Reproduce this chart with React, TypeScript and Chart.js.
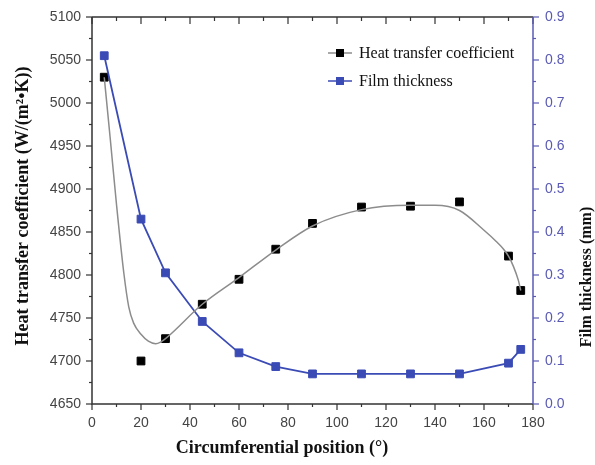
import React, { useEffect, useRef } from "react";
import { Chart, registerables } from "chart.js";

Chart.register(...registerables);

// Circumferential positions (degrees)
const positions = [5, 20, 30, 45, 60, 75, 90, 110, 130, 150, 170, 175];
// Heat transfer coefficient W/(m²·K)
const heatTransfer = [5030, 4700, 4726, 4766, 4795, 4830, 4860, 4879, 4880, 4885, 4822, 4782];
// Film thickness (mm)
const filmThickness = [0.81, 0.43, 0.305, 0.192, 0.119, 0.087, 0.07, 0.07, 0.07, 0.07, 0.095, 0.127];
// Fitted curve for heat transfer coefficient
const fitPositions = [5, 7.5, 10, 13, 15, 17, 20, 23, 26, 28, 30, 45, 60, 75, 90, 110, 130, 140, 150, 160, 165, 168, 170, 172, 174, 175];
const fitValues = [5030, 4957, 4882, 4802, 4763, 4744, 4731, 4723, 4720, 4722, 4726, 4766, 4797, 4829, 4857, 4876, 4881, 4881, 4875, 4852, 4839, 4830, 4822, 4810, 4794, 4782];

const legendLabels = ["Heat transfer coefficient", "Film thickness"];
const xTitle = "Circumferential position (°)";
const yTitle = "Heat transfer coefficient (W/(m²•K))";
const y2Title = "Film thickness (mm)";

const BLUE = "#3b4bb5";
const AXIS_BLUE = "#5a5ab4";
const DARK = "#333333";

const framePlugin = {
  id: "frame",
  afterDraw(chart: any) {
    const { ctx, chartArea } = chart;
    const { left, right, top, bottom } = chartArea;
    const xs = chart.scales.x;
    const ys = chart.scales.y;
    const y2 = chart.scales.y2;
    ctx.save();
    ctx.lineWidth = 1.5;
    // frame
    ctx.strokeStyle = DARK;
    ctx.beginPath();
    ctx.moveTo(left, top);
    ctx.lineTo(left, bottom);
    ctx.lineTo(right, bottom);
    ctx.moveTo(left, top);
    ctx.lineTo(right, top);
    ctx.stroke();
    // x ticks (bottom outward, top inward)
    ctx.lineWidth = 1.2;
    for (let v = 0; v <= 180; v += 10) {
      const px = xs.getPixelForValue(v);
      const major = v % 20 === 0;
      ctx.beginPath();
      ctx.moveTo(px, bottom);
      ctx.lineTo(px, bottom + (major ? 6 : 3));
      ctx.moveTo(px, top);
      ctx.lineTo(px, top + (major ? 7 : 4));
      ctx.stroke();
    }
    // left y ticks
    for (let v = 4650; v <= 5100; v += 25) {
      const py = ys.getPixelForValue(v);
      const major = v % 50 === 0;
      ctx.beginPath();
      ctx.moveTo(left, py);
      ctx.lineTo(left - (major ? 6 : 3), py);
      ctx.stroke();
    }
    // right axis
    ctx.strokeStyle = AXIS_BLUE;
    ctx.lineWidth = 1.5;
    ctx.beginPath();
    ctx.moveTo(right, top);
    ctx.lineTo(right, bottom);
    ctx.stroke();
    ctx.lineWidth = 1.2;
    for (let i = 0; i <= 18; i++) {
      const v = i * 0.05;
      const py = y2.getPixelForValue(v);
      const major = i % 2 === 0;
      ctx.beginPath();
      ctx.moveTo(right, py);
      ctx.lineTo(right + (major ? 6 : 3), py);
      ctx.stroke();
    }
    // axis titles
    ctx.fillStyle = "#111111";
    ctx.textAlign = "center";
    ctx.textBaseline = "middle";
    ctx.save();
    ctx.translate(23, 206);
    ctx.rotate(-Math.PI / 2);
    ctx.font = "bold 18px 'Liberation Serif'";
    ctx.fillText(yTitle, 0, 0);
    ctx.restore();
    ctx.save();
    ctx.translate(587, 277);
    ctx.rotate(-Math.PI / 2);
    ctx.font = "bold 16px 'Liberation Serif'";
    ctx.fillText(y2Title, 0, 0);
    ctx.restore();
    ctx.font = "bold 18px 'Liberation Serif'";
    ctx.textBaseline = "alphabetic";
    ctx.fillText(xTitle, 282, 453);
    // legend
    const items = [
      { label: legendLabels[0], line: "#8c8c8c", fill: "#000000", y: 53 },
      { label: legendLabels[1], line: BLUE, fill: BLUE, y: 81 },
    ];
    ctx.font = "16px 'Liberation Serif'";
    ctx.textBaseline = "middle";
    ctx.textAlign = "left";
    for (const it of items) {
      ctx.strokeStyle = it.line;
      ctx.lineWidth = 1.5;
      ctx.beginPath();
      ctx.moveTo(328, it.y);
      ctx.lineTo(352, it.y);
      ctx.stroke();
      ctx.fillStyle = it.fill;
      ctx.fillRect(336, it.y - 4, 8, 8);
      ctx.fillStyle = "#111111";
      ctx.fillText(it.label, 359, it.y + 1);
    }
    ctx.restore();
  },
};

export default function App() {
  const canvasRef = useRef<HTMLCanvasElement | null>(null);

  useEffect(() => {
    if (!canvasRef.current) return;
    const chart = new Chart(canvasRef.current, {
      type: "line",
      data: {
        datasets: [
          {
            label: "fit",
            data: fitPositions.map((x, i) => ({ x, y: fitValues[i] })),
            borderColor: "#8c8c8c",
            borderWidth: 1.5,
            pointRadius: 0,
            cubicInterpolationMode: "monotone",
            yAxisID: "y",
          },
          {
            label: legendLabels[1],
            data: positions.map((x, i) => ({ x, y: filmThickness[i] })),
            borderColor: BLUE,
            backgroundColor: BLUE,
            borderWidth: 1.8,
            pointStyle: "rect",
            pointRadius: 5.5,
            pointBorderWidth: 1,
            tension: 0,
            yAxisID: "y2",
          },
          {
            label: legendLabels[0],
            data: positions.map((x, i) => ({ x, y: heatTransfer[i] })),
            borderColor: "#000000",
            backgroundColor: "#000000",
            showLine: false,
            pointStyle: "rect",
            pointRadius: 5.5,
            pointBorderWidth: 1,
            yAxisID: "y",
          },
        ],
      },
      options: {
        animation: false,
        responsive: false,
        maintainAspectRatio: false,
        layout: { padding: { top: 17, left: 0, right: 0, bottom: 0 } },
        plugins: { legend: { display: false }, tooltip: { enabled: false } },
        scales: {
          x: {
            type: "linear",
            min: 0,
            max: 180,
            ticks: {
              stepSize: 20,
              color: "#444",
              font: { family: "'Liberation Sans'", size: 14 },
              padding: 5,
              maxRotation: 0,
              callback: (v: any) => String(v),
            },
            grid: { drawOnChartArea: false, drawTicks: true, tickLength: 6, tickColor: "transparent" },
            border: { display: false },
            title: { display: false },
            afterFit: (s: any) => {
              s.height = 61;
            },
          },
          y: {
            type: "linear",
            position: "left",
            min: 4650,
            max: 5100,
            ticks: {
              stepSize: 50,
              color: "#444",
              font: { family: "'Liberation Sans'", size: 14 },
              padding: 5,
              callback: (v: any) => String(v),
            },
            grid: { drawOnChartArea: false, drawTicks: true, tickLength: 6, tickColor: "transparent" },
            border: { display: false },
            title: { display: false },
            afterFit: (s: any) => {
              s.width = 92;
            },
          },
          y2: {
            type: "linear",
            position: "right",
            min: 0,
            max: 0.9,
            ticks: {
              stepSize: 0.1,
              color: AXIS_BLUE,
              font: { family: "'Liberation Sans'", size: 14 },
              padding: 6,
              callback: (v: any) => Number(v).toFixed(1),
            },
            grid: { drawOnChartArea: false, drawTicks: true, tickLength: 6, tickColor: "transparent" },
            border: { display: false },
            title: { display: false },
            afterFit: (s: any) => {
              s.width = 62;
            },
          },
        },
      } as any,
      plugins: [framePlugin],
    });
    return () => chart.destroy();
  }, []);

  return (
    <div style={{ position: "fixed", left: 0, top: 0, width: 595, height: 465, background: "#fff" }}>
      <canvas ref={canvasRef} width={595} height={465} style={{ display: "block" }} />
    </div>
  );
}
